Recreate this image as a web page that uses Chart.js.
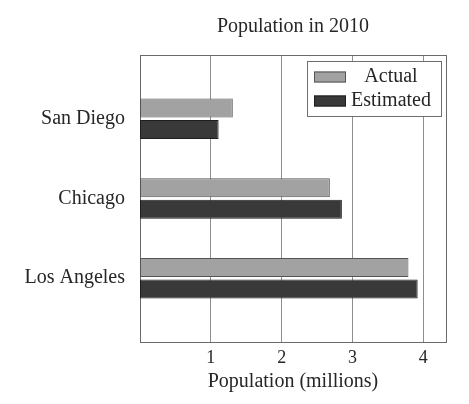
<!DOCTYPE html>
<html>
<head>
<meta charset="utf-8">
<script src="https://cdn.jsdelivr.net/npm/chart.js@4"></script>
<style>
  html, body { margin: 0; padding: 0; background: #fff; }
  #wrap { width: 469px; height: 404px; }
</style>
</head>
<body>
<div id="wrap"><canvas id="c" width="469" height="404"></canvas></div>
<script>
const categories = ['San Diego', 'Chicago', 'Los Angeles'];
const actualValues = [1.31, 2.68, 3.79];
const estimatedValues = [1.11, 2.85, 3.92];
const xTickValues = [1, 2, 3, 4];
const seriesNames = ['Actual', 'Estimated'];

const FONT = "'Liberation Serif', 'Times New Roman', serif";
const TEXT = '#262626';

const toPoints = vals => vals.map((v, i) => ({ x: v, y: i }));

const legendPlugin = {
  id: 'insideLegend',
  afterDraw(chart) {
    const { ctx, chartArea } = chart;
    const w = 134, h = 55;
    const left = chartArea.right - 5 - w;
    const top = chartArea.top + 6;
    ctx.save();
    ctx.fillStyle = '#fff';
    ctx.fillRect(left, top, w, h);
    ctx.strokeStyle = '#6e6e6e';
    ctx.lineWidth = 1;
    ctx.strokeRect(left + 0.5, top + 0.5, w, h);
    ctx.font = '20px ' + FONT;
    ctx.textAlign = 'center';
    ctx.textBaseline = 'middle';
    chart.data.datasets.forEach((ds, i) => {
      const cy = top + 16 + i * 24;
      ctx.fillStyle = ds.backgroundColor;
      ctx.fillRect(left + 7, cy - 5.5, 32, 11);
      ctx.strokeStyle = ds.borderColor;
      ctx.strokeRect(left + 7.5, cy - 5, 31, 10);
      ctx.fillStyle = TEXT;
      ctx.fillText(ds.label, left + 84, cy);
    });
    ctx.restore();
  }
};

new Chart(document.getElementById('c'), {
  type: 'bar',
  data: {
    datasets: [
      {
        label: seriesNames[0],
        data: toPoints(actualValues),
        backgroundColor: '#a2a2a2',
        borderColor: '#555555',
        borderWidth: 1,
        borderSkipped: false
      },
      {
        label: seriesNames[1],
        data: toPoints(estimatedValues),
        backgroundColor: '#393939',
        borderColor: '#1e1e1e',
        borderWidth: 1,
        borderSkipped: false
      }
    ]
  },
  options: {
    indexAxis: 'y',
    responsive: false,
    animation: false,
    devicePixelRatio: 1,
    layout: { padding: 0 },
    categoryPercentage: 0.54,
    barPercentage: 0.88,
    plugins: {
      legend: { display: false },
      title: { display: false },
      tooltip: { enabled: false }
    },
    scales: {
      x: {
        type: 'linear',
        position: 'bottom',
        min: 0,
        max: 4.32,
        offset: false,
        afterBuildTicks: s => { s.ticks = xTickValues.map(v => ({ value: v })); },
        afterFit: s => { s.height = 62; },
        grid: { color: '#8e8e8e', drawTicks: false, lineWidth: 1, offset: false },
        border: { display: true, color: '#6a6a6a' },
        ticks: { color: TEXT, font: { family: FONT, size: 18 }, padding: 5 },
        title: {
          display: true,
          text: 'Population (millions)',
          color: TEXT,
          font: { family: FONT, size: 20 },
          padding: { top: 0, bottom: 10 }
        }
      },
      x2: {
        type: 'linear',
        position: 'top',
        min: 0,
        max: 4.32,
        offset: false,
        afterFit: s => { s.height = 55; },
        grid: { display: false, drawTicks: false },
        border: { display: true, color: '#6a6a6a' },
        ticks: { display: false },
        title: {
          display: true,
          text: 'Population in 2010',
          color: TEXT,
          font: { family: FONT, size: 20 },
          padding: { top: 15, bottom: 0 }
        }
      },
      y: {
        type: 'linear',
        position: 'left',
        reverse: true,
        min: -0.8,
        max: 2.8,
        offset: false,
        afterBuildTicks: s => { s.ticks = categories.map((_, i) => ({ value: i })); },
        afterFit: s => { s.width = 140; },
        grid: { display: false, drawTicks: false, offset: false },
        border: { display: true, color: '#6a6a6a' },
        ticks: {
          color: TEXT,
          font: { family: FONT, size: 20 },
          padding: 15,
          callback: v => categories[v]
        }
      },
      y2: {
        type: 'linear',
        position: 'right',
        offset: false,
        afterFit: s => { s.width = 23; },
        grid: { display: false, drawTicks: false },
        border: { display: true, color: '#6a6a6a' },
        ticks: { display: false }
      }
    }
  },
  plugins: [legendPlugin]
});
</script>
</body>
</html>
